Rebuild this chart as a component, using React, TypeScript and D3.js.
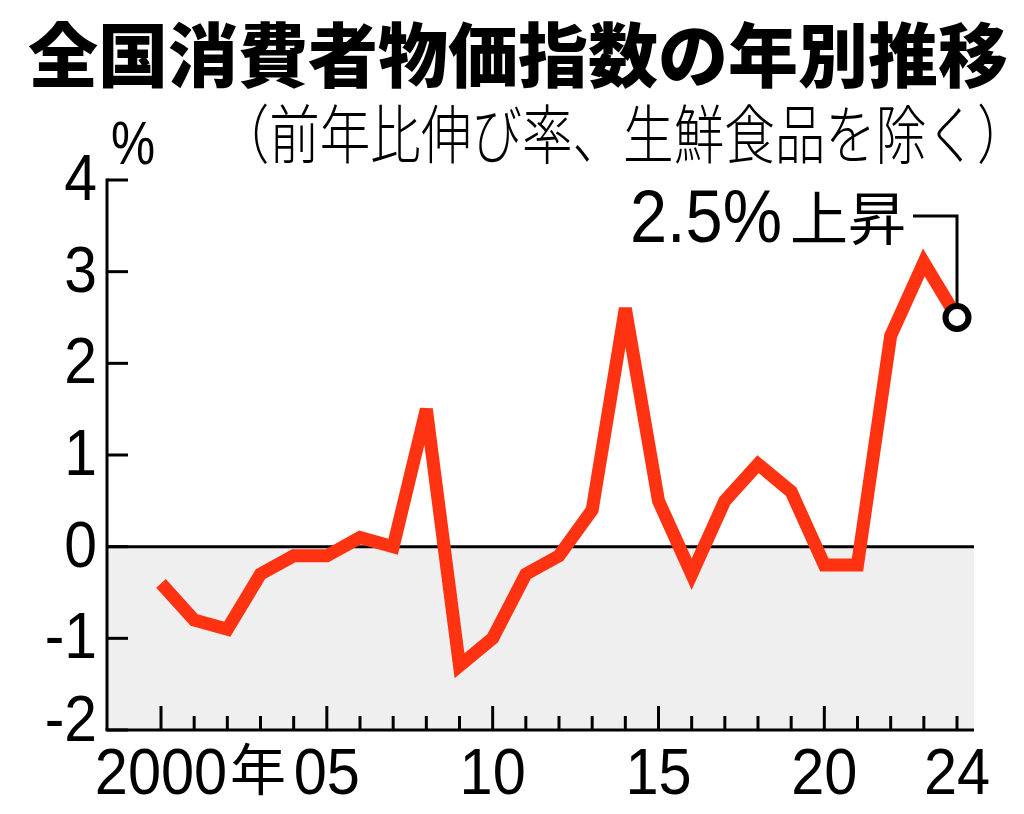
import React from "react";
import * as d3 from "d3";

const years = [2000, 2001, 2002, 2003, 2004, 2005, 2006, 2007, 2008, 2009, 2010, 2011, 2012, 2013, 2014, 2015, 2016, 2017, 2018, 2019, 2020, 2021, 2022, 2023, 2024];
const cpi = [-0.4, -0.8, -0.9, -0.3, -0.1, -0.1, 0.1, 0.0, 1.5, -1.3, -1.0, -0.3, -0.1, 0.4, 2.6, 0.5, -0.3, 0.5, 0.9, 0.6, -0.2, -0.2, 2.3, 3.1, 2.5];
const yTicks = [4, 3, 2, 1, 0, -1, -2];
const yTickLabels = ["4", "3", "2", "1", "0", "-1", "-2"];
const xLabelYears = [2000, 2005, 2010, 2015, 2020, 2024];
const xLabels = ["2000", "05", "10", "15", "20", "24"];
const title = "全国消費者物価指数の年別推移";
const subtitleOpen = "（";
const subtitleBody = "前年比伸び率、生鮮食品を除く";
const subtitleClose = "）";
const annotValue = "2.5%";
const annotText = "上昇";

const W = 1024;
const H = 814;
const LEFT = 107;
const RIGHT = 974;
const TOP = 180;
const BOTTOM = 730;

const LATIN = "'Liberation Sans', Arial, sans-serif";
const CJK = "'Noto Sans CJK JP', 'Noto Sans', sans-serif";
const RED = "#ff3311";

export default function App() {
  const x = d3.scaleLinear().domain([2000, 2024]).range([161, 957]);
  const y = d3.scaleLinear().domain([-2, 4]).range([BOTTOM, TOP]);
  const line = d3
    .line<number>()
    .x((_, i) => x(years[i]))
    .y((d) => y(d));
  const lastX = x(years[years.length - 1]);
  const lastY = y(cpi[cpi.length - 1]);
  const halt = { fontFeatureSettings: '"halt" 1' } as React.CSSProperties;

  return (
    <svg
      width={W}
      height={H}
      viewBox={`0 0 ${W} ${H}`}
      style={{ position: "absolute", left: 0, top: 0, background: "#fff" }}
    >
      <rect x={0} y={0} width={W} height={H} fill="#fff" />
      {/* title */}
      <text x={518} y={82} textAnchor="middle" fontFamily={CJK} fontWeight={900} fontSize={70} fill="#000">
        {title}
      </text>
      <text
        transform="translate(244,158) scale(0.79,1)"
        fontFamily={CJK}
        fontWeight={300}
        fontSize={64}
        fill="#000"
      >
        <tspan style={halt}>{subtitleOpen}</tspan>
        <tspan>{subtitleBody}</tspan>
        <tspan style={halt}>{subtitleClose}</tspan>
      </text>
      <text transform="translate(111,164) scale(0.8,1)" fontFamily={LATIN} fontSize={62} fill="#000">
        %
      </text>

      {/* negative area */}
      <rect x={LEFT} y={y(0)} width={RIGHT - LEFT} height={BOTTOM - y(0)} fill="#efefef" />

      {/* zero line */}
      <line x1={LEFT} x2={RIGHT} y1={y(0)} y2={y(0)} stroke="#000" strokeWidth={3} />

      {/* y axis */}
      <line x1={LEFT} x2={LEFT} y1={TOP - 1.5} y2={BOTTOM} stroke="#000" strokeWidth={3} />
      {yTicks.map((t) => (
        <line key={"yt" + t} x1={LEFT} x2={LEFT + 21} y1={y(t)} y2={y(t)} stroke="#000" strokeWidth={3} />
      ))}
      {yTicks.map((t, i) => {
        const off = t === -2 ? -12 : -3;
        return (
          <text
            key={"yl" + t}
            transform={`translate(97,${y(t) + off + 23}) scale(0.92,1)`}
            textAnchor="end"
            fontFamily={LATIN}
            fontSize={64}
            fill="#000"
          >
            {yTickLabels[i]}
          </text>
        );
      })}

      {/* x axis */}
      <line x1={LEFT - 1.5} x2={RIGHT} y1={BOTTOM} y2={BOTTOM} stroke="#000" strokeWidth={3} />
      {years.map((yr) => (
        <line
          key={"xt" + yr}
          x1={x(yr)}
          x2={x(yr)}
          y1={BOTTOM}
          y2={BOTTOM - (yr % 5 === 0 ? 24 : 14)}
          stroke="#000"
          strokeWidth={3}
        />
      ))}
      {xLabelYears.map((yr, i) => (
        <text
          key={"xl" + yr}
          transform={`translate(${x(yr)},794) scale(0.93,1)`}
          textAnchor="middle"
          fontFamily={LATIN}
          fontSize={64}
          fill="#000"
        >
          {xLabels[i]}
        </text>
      ))}
      <text x={x(2000) + 69} y={790} fontFamily={CJK} fontSize={56} fill="#000">
        年
      </text>

      {/* data line */}
      <path d={line(cpi) || ""} fill="none" stroke={RED} strokeWidth={13} strokeLinejoin="miter" strokeLinecap="butt" />

      {/* annotation */}
      <polyline
        points={`913,216 ${lastX},216 ${lastX},${lastY - 12}`}
        fill="none"
        stroke="#000"
        strokeWidth={3}
      />
      <circle cx={lastX} cy={lastY} r={11.5} fill="#fff" stroke="#000" strokeWidth={6} />
      <text x={630} y={242} fontFamily={LATIN} fontSize={74} fill="#000" textLength={152} lengthAdjust="spacingAndGlyphs">
        {annotValue}
      </text>
      <text x={790} y={240} fontFamily={CJK} fontSize={58} fill="#000">
        {annotText}
      </text>
    </svg>
  );
}
